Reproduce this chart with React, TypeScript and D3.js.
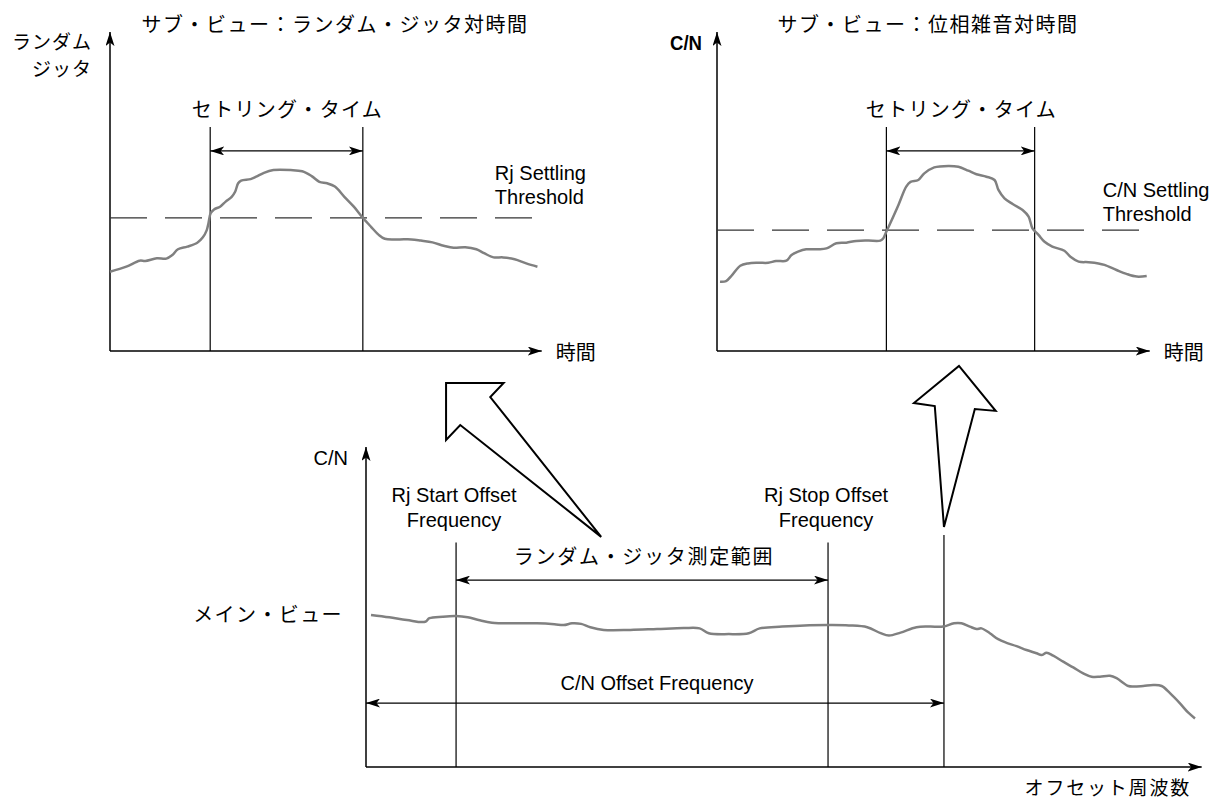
import React from "react";
import * as d3 from "d3";

// sub view 1: random jitter vs time  [time, jitter]
const jitterCurve: [number, number][] = [
  [0, 26.4], [3.8, 28.1], [6.9, 30.1], [8.2, 30], [10.9, 30.9], [13.1, 30.8], [14.5, 32],
  [15.8, 33.9], [18, 34.8], [20.3, 36.1], [21.6, 37.9], [22.5, 40.3], [22.9, 42.6],
  [23.4, 45.9], [24.2, 47.2], [25.6, 48.1], [26.9, 49.8], [28.3, 51.4], [29.1, 53.1],
  [29.8, 55.9], [30.5, 56.8], [32.7, 57.3], [34, 58.1], [35.8, 59.4], [38, 60.3],
  [42, 60.3], [44.7, 59.9], [46.9, 58.3], [48.7, 56.4], [50.5, 55.9], [52.3, 54.8],
  [54.5, 51.4], [56.7, 48.1], [58.8, 44.4], [60.7, 41.4], [62.5, 38.7], [63.9, 37.4],
  [67, 37.2], [70.1, 37.2], [72.3, 36.8], [75, 36.2], [77.6, 35.1], [79.9, 34.4],
  [82.6, 34.6], [85.2, 33.9], [87, 32.6], [89.2, 31.2], [91.4, 31.2], [94.1, 30.6],
  [96.8, 29.2], [99.4, 28.1],
];
const jitterThreshold = 44.4;
const jitterSettling = [23.3, 58.8];

// sub view 2: phase noise (C/N) vs time  [time, C/N]
const cnCurve: [number, number][] = [
  [0.7, 23.1], [2.1, 23.3], [3.5, 25.3], [5.4, 28.4], [7.2, 29.2], [9.6, 29.4], [11.9, 29.4],
  [13.7, 30], [16.1, 30.1], [17.3, 32], [18.8, 33.1], [20.7, 33.9], [23.5, 33.9],
  [25.4, 34.2], [27.7, 35.9], [30, 36.1], [32.3, 36.7], [35.1, 36.8], [37.9, 36.8],
  [38.6, 37.6], [39.3, 39.8], [40.2, 42.6], [42.1, 48.7], [43.9, 54.8], [44.9, 56.4],
  [46.7, 57], [48.1, 59.2], [50.4, 61.2], [53.7, 61.7], [56, 61.4], [58.3, 60.1],
  [60.2, 58.9], [62.5, 58.1], [64.4, 57], [65.3, 53.7], [66.7, 50.9], [68.6, 49],
  [70.9, 47], [72.3, 44.8], [73.2, 40.9], [74.6, 38.7], [76, 36.4], [77.8, 34.8],
  [80.6, 33.4], [82, 31.4], [83.9, 29.8], [86.2, 29.6], [88.5, 29.2], [89.9, 28.7],
  [92.7, 27], [95, 25.7], [97.4, 24.8], [99.7, 25],
];
const cnThreshold = 40.3;
const cnSettling = [39.3, 73.7];

// main view: C/N vs offset frequency  [freq, C/N]
const mainCurve: [number, number][] = [
  [0.6, 50.7], [2.8, 49.9], [4.9, 49], [7.1, 48.4], [7.6, 49.6], [9.2, 50.1], [10.8, 50.3],
  [12.2, 49.9], [13.5, 49], [15.1, 48.1], [17.8, 47.9], [20.5, 47.9], [22.6, 47.6],
  [23.7, 47.3], [24.7, 47.9], [25.8, 47.7], [26.9, 46.6], [28.5, 45.7], [31.7, 45.7],
  [34.9, 46], [38.1, 46.3], [40, 46.2], [41.1, 44.6], [43.5, 44.3], [45.9, 44.6],
  [47.2, 46.2], [49.9, 46.8], [52.6, 47.2], [55.3, 47.3], [57.9, 47.2], [60.1, 46.6],
  [61.7, 44.6], [62.7, 43.8], [64.1, 44.8], [66, 46.6], [67.6, 46.8], [69.2, 46.8],
  [70.5, 47.9], [71.4, 47.9], [72.4, 46.8], [73.2, 46], [73.8, 46.2], [74.8, 44.6],
  [75.8, 42.6], [76.8, 41.4], [78, 40.3], [79.2, 39], [80.4, 37.9], [81, 37.3],
  [81.6, 38.1], [82.4, 37.1], [83.6, 35.1], [84.8, 33.2], [86, 31.2], [87, 30.1],
  [88, 30.1], [89.2, 30.4], [90, 29.6], [91.4, 27], [92, 26.8], [93.2, 27], [94.4, 27.3],
  [95.4, 27], [96.4, 24.6], [97.6, 21.2], [98.6, 18.1], [99.4, 16.2],
];
const rjStartFreq = 10.8;
const rjStopFreq = 55.4;
const cnOffsetFreq = 69.3;

// hollow callout arrows, in main-view units
const arrowToJitter: [number, number][] = [
  [9.6, 128], [16.5, 128], [14.9, 123.3], [28.2, 76.7], [11.3, 114], [9.6, 109],
];
const arrowToCN: [number, number][] = [
  [71.1, 133.7], [75.5, 118.7], [73, 119.3], [69.3, 80], [68.2, 120.3], [65.7, 121.3],
];

const JP = "'Noto Sans CJK JP', sans-serif";
const EN = "'Liberation Sans', Arial, sans-serif";
const CURVE = "#808080";

type SubProps = {
  x0: number;
  x1: number;
  data: [number, number][];
  threshold: number;
  settling: number[];
  title: string;
  titleX: number;
  thLabel: string[];
  thX: number;
  thY: number[];
  yLabel: React.ReactNode;
};

const SubView = ({ x0, x1, data, threshold, settling, title, titleX, thLabel, thX, thY, yLabel }: SubProps) => {
  const x = d3.scaleLinear().domain([0, 100]).range([x0, x1]);
  const y = d3.scaleLinear().domain([0, 100]).range([351, 51]);
  const line = d3
    .line<[number, number]>()
    .x((d) => x(d[0]))
    .y((d) => y(d[1]))
    .curve(d3.curveCatmullRom.alpha(0.5));
  const mid = (x(settling[0]) + x(settling[1])) / 2;
  return (
    <g>
      <text x={titleX} y={23.5} fontFamily={JP} fontSize={20} letterSpacing={1.5}
        textAnchor="middle" dominantBaseline="central">{title}</text>
      {yLabel}
      {/* axes */}
      <line x1={x(0)} y1={y(0)} x2={x(0)} y2={y(106.3)} stroke="#000" strokeWidth={1.5} markerEnd="url(#ah)" />
      <line x1={x(0)} y1={y(0)} x2={x(100.4)} y2={y(0)} stroke="#000" strokeWidth={1.5} markerEnd="url(#ah)" />
      <text x={x(100.4) + 14} y={y(0)} fontFamily={JP} fontSize={20} dominantBaseline="central">時間</text>
      {/* threshold */}
      <line x1={x(0)} y1={y(threshold)} x2={x(100)} y2={y(threshold)} stroke="#333" strokeWidth={1.3}
        strokeDasharray="37 18" />
      {thLabel.map((t, i) => (
        <text key={t} x={x(thX)} y={thY[i]} fontFamily={EN} fontSize={20}>{t}</text>
      ))}
      {/* settling time */}
      {settling.map((s) => (
        <line key={s} x1={x(s)} y1={y(0)} x2={x(s)} y2={y(74.7)} stroke="#000" strokeWidth={1.2} />
      ))}
      <line x1={x(settling[0])} y1={y(66.7)} x2={x(settling[1])} y2={y(66.7)} stroke="#000" strokeWidth={1.3}
        markerStart="url(#ah)" markerEnd="url(#ah)" />
      <text x={mid + 1} y={y(81)} fontFamily={JP} fontSize={20} letterSpacing={1.3}
        textAnchor="middle" dominantBaseline="central">セトリング・タイム</text>
      <path d={line(data) || ""} fill="none" stroke={CURVE} strokeWidth={2.5} strokeLinejoin="round" />
    </g>
  );
};

const MainView = () => {
  const x = d3.scaleLinear().domain([0, 100]).range([366, 1200]);
  const y = d3.scaleLinear().domain([0, 100]).range([767, 467]);
  const line = d3
    .line<[number, number]>()
    .x((d) => x(d[0]))
    .y((d) => y(d[1]))
    .curve(d3.curveCatmullRom.alpha(0.5));
  const poly = (pts: [number, number][]) =>
    "M" + pts.map((p) => `${x(p[0])},${y(p[1])}`).join("L") + "Z";
  return (
    <g>
      <path d={poly(arrowToJitter)} fill="#fff" stroke="#000" strokeWidth={2} strokeLinejoin="miter" />
      <path d={poly(arrowToCN)} fill="#fff" stroke="#000" strokeWidth={2} strokeLinejoin="miter" />
      <line x1={x(0)} y1={y(0)} x2={x(0)} y2={y(106.7)} stroke="#000" strokeWidth={1.5} markerEnd="url(#ah)" />
      <line x1={x(0)} y1={y(0)} x2={x(100.2)} y2={y(0)} stroke="#000" strokeWidth={1.5} markerEnd="url(#ah)" />
      <text x={x(0) - 18} y={458} fontFamily={EN} fontSize={20} textAnchor="end" dominantBaseline="central">C/N</text>
      <text x={343} y={y(51.3)} fontFamily={JP} fontSize={20} letterSpacing={1.4} textAnchor="end"
        dominantBaseline="central">メイン・ビュー</text>
      <text x={1191} y={786} fontFamily={JP} fontSize={19} letterSpacing={1.8} textAnchor="end"
        dominantBaseline="central">オフセット周波数</text>
      {[rjStartFreq, rjStopFreq].map((f) => (
        <line key={f} x1={x(f)} y1={y(0)} x2={x(f)} y2={y(74.8)} stroke="#000" strokeWidth={1.2} />
      ))}
      <line x1={x(cnOffsetFreq)} y1={y(0)} x2={x(cnOffsetFreq)} y2={y(77.3)} stroke="#000" strokeWidth={1.2} />
      {[
        { f: rjStartFreq, t: ["Rj Start Offset", "Frequency"] },
        { f: rjStopFreq, t: ["Rj Stop Offset", "Frequency"] },
      ].map((d) =>
        d.t.map((s, i) => (
          <text key={d.f + s} x={x(d.f) - 2} y={502 + i * 25} fontFamily={EN} fontSize={20} textAnchor="middle">{s}</text>
        ))
      )}
      <line x1={x(rjStartFreq)} y1={y(62.3)} x2={x(rjStopFreq)} y2={y(62.3)} stroke="#000" strokeWidth={1.3}
        markerStart="url(#ah)" markerEnd="url(#ah)" />
      <text x={(x(rjStartFreq) + x(rjStopFreq)) / 2 + 2} y={555} fontFamily={JP} fontSize={20} letterSpacing={1.7}
        textAnchor="middle" dominantBaseline="central">ランダム・ジッタ測定範囲</text>
      <line x1={x(0)} y1={y(21.3)} x2={x(cnOffsetFreq)} y2={y(21.3)} stroke="#000" strokeWidth={1.3}
        markerStart="url(#ah)" markerEnd="url(#ah)" />
      <text x={657} y={690} fontFamily={EN} fontSize={20} textAnchor="middle">C/N Offset Frequency</text>
      <path d={line(mainCurve) || ""} fill="none" stroke={CURVE} strokeWidth={2.5} strokeLinejoin="round" />
    </g>
  );
};

export default function App() {
  return (
    <div style={{ position: "absolute", left: 0, top: 0 }}>
      <svg width={1228} height={800} viewBox="0 0 1228 800" style={{ display: "block", background: "#fff" }}>
        <defs>
          <marker id="ah" viewBox="0 0 14 9" refX={14} refY={4.5} markerWidth={14} markerHeight={9}
            markerUnits="userSpaceOnUse" orient="auto-start-reverse">
            <path d="M0,0 L14,4.5 L0,9 L3.5,4.5 Z" fill="#000" />
          </marker>
        </defs>
        <SubView
          x0={110}
          x1={540}
          data={jitterCurve}
          threshold={jitterThreshold}
          settling={jitterSettling}
          title="サブ・ビュー：ランダム・ジッタ対時間"
          titleX={335}
          thLabel={["Rj Settling", "Threshold"]}
          thX={89.5}
          thY={[180, 204]}
          yLabel={
            <g fontFamily={JP} fontSize={19} letterSpacing={1} textAnchor="end">
              <text x={92} y={40} dominantBaseline="central">ランダム</text>
              <text x={92} y={67} dominantBaseline="central">ジッタ</text>
            </g>
          }
        />
        <SubView
          x0={717}
          x1={1148}
          data={cnCurve}
          threshold={cnThreshold}
          settling={cnSettling}
          title="サブ・ビュー：位相雑音対時間"
          titleX={928}
          thLabel={["C/N Settling", "Threshold"]}
          thX={89.5}
          thY={[197, 221]}
          yLabel={
            <text x={702} y={43} fontFamily={EN} fontSize={20} fontWeight="bold" textAnchor="end"
              textLength={32} lengthAdjust="spacingAndGlyphs" dominantBaseline="central">C/N</text>
          }
        />
        <MainView />
      </svg>
    </div>
  );
}
